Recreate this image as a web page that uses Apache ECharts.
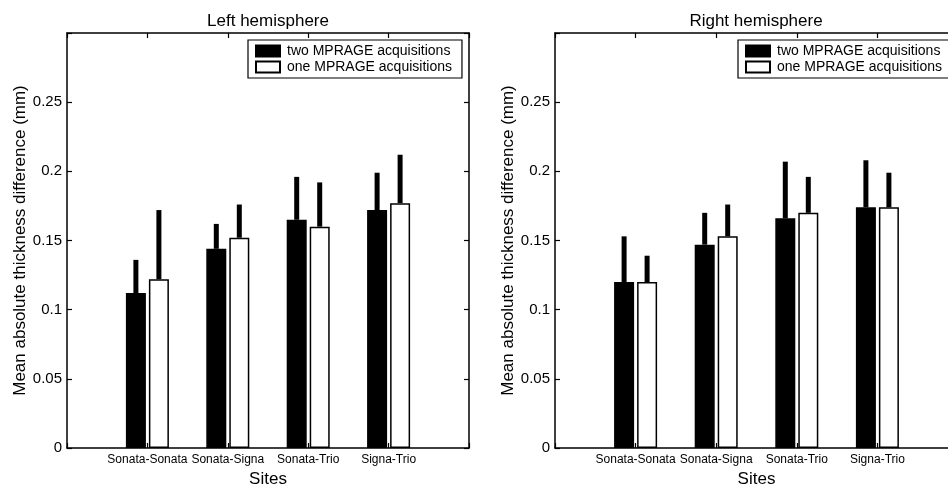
<!DOCTYPE html>
<html lang="en">
<head>
<meta charset="utf-8">
<title>Mean absolute thickness difference</title>
<script src="https://cdn.jsdelivr.net/npm/echarts@6/dist/echarts.min.js"></script>
<style>
    html, body { margin: 0; padding: 0; background: #fff; }
    #chart { width: 948px; height: 487px; }
</style>
</head>
<body>
<div id="chart"></div>
<script>
    var sites = ['Sonata-Sonata', 'Sonata-Signa', 'Sonata-Trio', 'Signa-Trio'];
    var yTicks = [0, 0.05, 0.1, 0.15, 0.2, 0.25];
    var seriesNames = ['two MPRAGE acquisitions', 'one MPRAGE acquisitions'];

    // left hemisphere: means and upper error (mm)
    var leftTwo = [0.112, 0.144, 0.165, 0.172];
    var leftTwoErr = [0.024, 0.018, 0.031, 0.027];
    var leftOne = [0.122, 0.152, 0.160, 0.177];
    var leftOneErr = [0.050, 0.024, 0.032, 0.035];

    // right hemisphere
    var rightTwo = [0.120, 0.147, 0.166, 0.174];
    var rightTwoErr = [0.033, 0.023, 0.041, 0.034];
    var rightOne = [0.120, 0.153, 0.170, 0.174];
    var rightOneErr = [0.019, 0.023, 0.026, 0.025];

    var FONT = 'Liberation Sans';
    var xData = [''].concat(sites, ['']);   // empty slots give the 0 and 5 edges
    var BAR_W = 20, BAR_SHIFT = 11.5;

    function pad(arr) { return ['-'].concat(arr, ['-']); }

    function yLabel(v) {
        if (v > yTicks[yTicks.length - 1] + 0.001) return '';
        return String(Math.round(v * 100) / 100);
    }

    function tick() {
        return { show: true, inside: true, length: 5, interval: 0, lineStyle: { color: '#000', width: 1.2 } };
    }
    function line() {
        return { show: true, onZero: false, lineStyle: { color: '#000', width: 1.5 } };
    }

    function xAxes(grid) {
        return [{
            gridIndex: grid, type: 'category', data: xData, boundaryGap: false, position: 'bottom',
            name: 'Sites', nameLocation: 'middle', nameGap: 23,
            nameTextStyle: { fontFamily: FONT, fontSize: 17, color: '#000' },
            axisLine: line(), axisTick: tick(),
            axisLabel: { margin: 6, fontFamily: FONT, fontSize: 12, color: '#000', interval: 0 },
            splitLine: { show: false }
        }, {
            gridIndex: grid, type: 'category', data: xData, boundaryGap: false, position: 'top',
            axisLine: line(), axisTick: tick(),
            axisLabel: { show: false },
            splitLine: { show: false }
        }];
    }

    function yAxes(grid) {
        var base = { gridIndex: grid, type: 'value', min: 0, max: 0.3, interval: 0.05 };
        return [Object.assign({}, base, {
            position: 'left',
            name: 'Mean absolute thickness difference (mm)', nameLocation: 'middle', nameGap: 38,
            nameTextStyle: { fontFamily: FONT, fontSize: 17, color: '#000' },
            axisLine: line(), axisTick: tick(),
            axisLabel: { margin: 5, fontFamily: FONT, fontSize: 15, color: '#000', formatter: yLabel },
            splitLine: { show: false }
        }), Object.assign({}, base, {
            position: 'right',
            axisLine: line(), axisTick: tick(),
            axisLabel: { show: false },
            splitLine: { show: false }
        })];
    }

    function barSeries(name, values, grid, fill) {
        return {
            name: name, type: 'bar', xAxisIndex: grid * 2, yAxisIndex: grid * 2,
            data: pad(values), barWidth: BAR_W, barGap: '15%', z: 3,
            itemStyle: { color: fill, borderColor: '#000', borderWidth: 1.5 },
            emphasis: { disabled: true }
        };
    }

    function errorSeries(values, errs, grid, shift) {
        return {
            type: 'custom', xAxisIndex: grid * 2, yAxisIndex: grid * 2, silent: true, z: 2,
            data: values.map(function (m, i) { return [i + 1, m, m + errs[i]]; }),
            renderItem: function (params, api) {
                var lo = api.coord([api.value(0), api.value(1)]);
                var hi = api.coord([api.value(0), api.value(2)]);
                return {
                    type: 'rect',
                    shape: { x: lo[0] + shift - 2.5, y: hi[1], width: 5, height: lo[1] - hi[1] },
                    style: { fill: '#000' }
                };
            }
        };
    }

    function legendAt(left) {
        return {
            left: left, top: 40, orient: 'vertical', data: seriesNames, selectedMode: false,
            icon: 'rect',
            backgroundColor: '#fff', borderColor: '#000', borderWidth: 1.2, borderRadius: 0,
            padding: [4, 10, 4, 7], itemWidth: 24, itemHeight: 11, itemGap: 2,
            textStyle: { fontFamily: FONT, fontSize: 14, color: '#000', padding: [0, 0, 0, 2] }
        };
    }

    var chart = echarts.init(document.getElementById('chart'));
    chart.setOption({
        animation: false,
        backgroundColor: '#fff',
        title: [
            { text: 'Left hemisphere', left: 263, top: 8, textAlign: 'center',
              textStyle: { fontFamily: FONT, fontSize: 17, fontWeight: 'normal', color: '#000' } },
            { text: 'Right hemisphere', left: 751, top: 8, textAlign: 'center',
              textStyle: { fontFamily: FONT, fontSize: 17, fontWeight: 'normal', color: '#000' } }
        ],
        legend: [legendAt(248), legendAt(738)],
        grid: [
            { left: 67, top: 33, width: 402, height: 415, outerBoundsMode: 'none' },
            { left: 555, top: 33, width: 403, height: 415, outerBoundsMode: 'none' }
        ],
        xAxis: xAxes(0).concat(xAxes(1)),
        yAxis: yAxes(0).concat(yAxes(1)),
        series: [
            errorSeries(leftTwo, leftTwoErr, 0, -BAR_SHIFT),
            errorSeries(leftOne, leftOneErr, 0, BAR_SHIFT),
            barSeries(seriesNames[0], leftTwo, 0, '#000'),
            barSeries(seriesNames[1], leftOne, 0, '#fff'),
            errorSeries(rightTwo, rightTwoErr, 1, -BAR_SHIFT),
            errorSeries(rightOne, rightOneErr, 1, BAR_SHIFT),
            barSeries(seriesNames[0], rightTwo, 1, '#000'),
            barSeries(seriesNames[1], rightOne, 1, '#fff')
        ]
    });
</script>
</body>
</html>
